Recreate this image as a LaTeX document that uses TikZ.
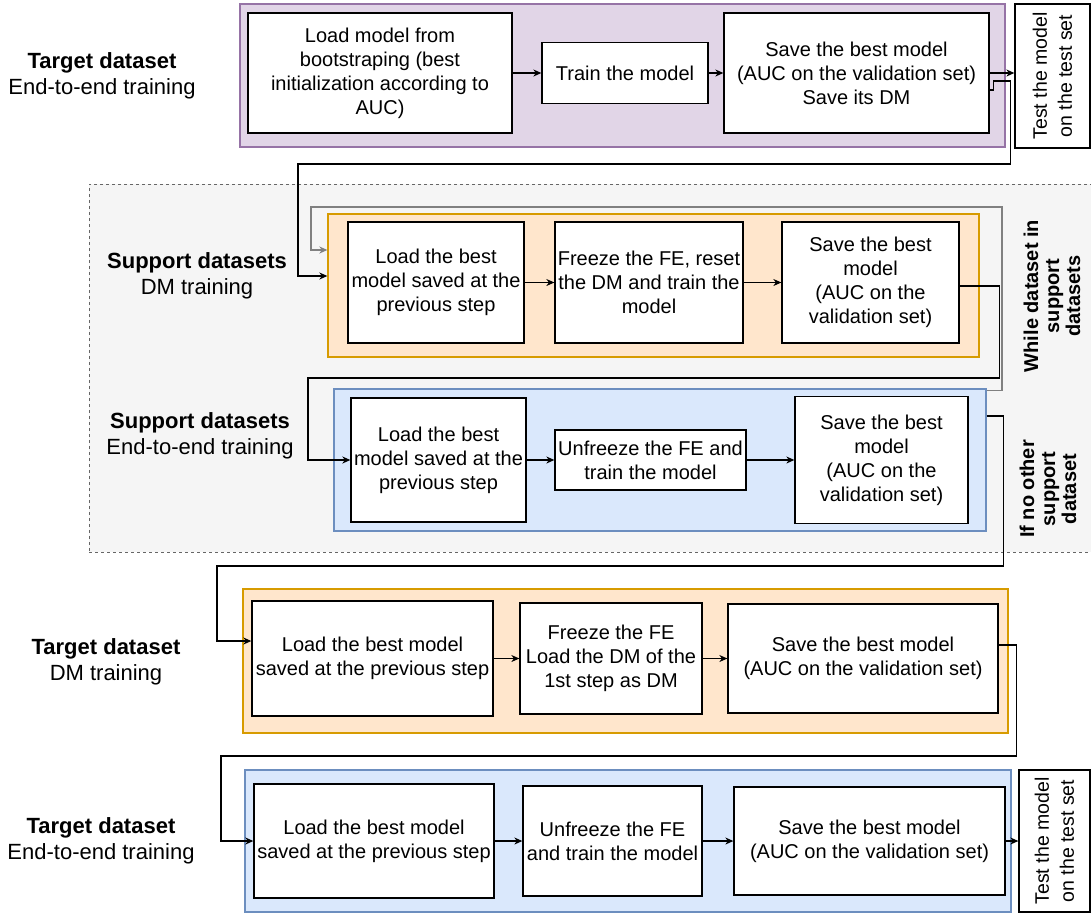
\documentclass[tikz,border=0pt]{standalone}
\usepackage{fontspec}
\setmainfont{Liberation Sans}
\usetikzlibrary{arrows.meta}

\definecolor{purplefill}{HTML}{E1D5E7}
\definecolor{purpleline}{HTML}{9673A6}
\definecolor{orangefill}{HTML}{FFE6CC}
\definecolor{orangeline}{HTML}{D79B00}
\definecolor{bluefill}{HTML}{DAE8FC}
\definecolor{blueline}{HTML}{6C8EBF}
\definecolor{groupfill}{HTML}{F5F5F5}
\definecolor{groupline}{HTML}{666666}
\definecolor{loopline}{HTML}{808080}

\begin{document}
\begin{tikzpicture}[x=1pt,y=-1pt,
  band/.style={line width=1.3pt, inner sep=0pt},
  purpleband/.style={band, draw=purpleline, fill=purplefill},
  orangeband/.style={band, draw=orangeline, fill=orangefill},
  blueband/.style={band, draw=blueline, fill=bluefill},
  group/.style={draw=groupline, fill=groupfill, line width=0.9pt, dash pattern=on 3pt off 3pt, inner sep=0pt},
  stepbox/.style={draw=black, fill=white, line width=1.3pt, align=center, inner sep=0pt,
                  font=\fontsize{20}{24}\selectfont},
  testbox/.style={stepbox, rotate=90, font=\fontsize{19.5}{25}\selectfont},
  rowlabel/.style={align=center, font=\fontsize{22}{26.5}\selectfont},
  sidelabel/.style={align=center, rotate=90, font=\fontsize{20}{21}\selectfont\bfseries},
  arr/.style={draw=black, line width=1.2pt, -{Stealth[length=8pt,width=7pt,inset=2.5pt]}},
  looparr/.style={arr, draw=loopline}
]
\useasboundingbox (0,0) rectangle (1091,913);

% dashed group holding the support-dataset stages
\node[group, minimum width=1011, minimum height=368] (SG) at (594.5,368) {};

% stage bands
\node[purpleband, minimum width=765, minimum height=143] (P)  at (622.5,75.5) {};
\node[orangeband, minimum width=651, minimum height=143] (S1) at (653.5,285.5) {};
\node[blueband,   minimum width=652, minimum height=142] (S2) at (660,460) {};
\node[orangeband, minimum width=765, minimum height=144] (TD) at (625.5,661) {};
\node[blueband,   minimum width=766, minimum height=142] (TE) at (628,841) {};

% stage labels
\node[rowlabel] (L1) at (102,76)  {\textbf{Target dataset}\\End-to-end training};
\node[rowlabel] (L2) at (197,276) {\textbf{Support datasets}\\DM training};
\node[rowlabel] (L3) at (200,436) {\textbf{Support datasets}\\End-to-end training};
\node[rowlabel] (L4) at (106,662) {\textbf{Target dataset}\\DM training};
\node[rowlabel] (L5) at (101,841) {\textbf{Target dataset}\\End-to-end training};

% loop conditions
\node[sidelabel] (W) at (1052,296) {While dataset in\\support\\datasets};
\node[sidelabel] (N) at (1048,489) {If no other\\support\\dataset};

% target dataset, end-to-end training (first pass)
\node[stepbox, minimum width=264, minimum height=120] (A1) at (380,73)
  {Load model from\\bootstraping (best\\initialization according to\\AUC)};
\node[stepbox, minimum width=166, minimum height=61] (A2) at (625,73) {Train the model};
\node[stepbox, minimum width=265, minimum height=120] (A3) at (856.5,73)
  {Save the best model\\(AUC on the validation set)\\Save its DM};
\node[testbox, minimum width=144, minimum height=75] (T1) at (1052.5,76)
  {Test the model\\on the test set};

% support datasets, DM training
\node[stepbox, minimum width=176, minimum height=121] (B1) at (436,282.5)
  {Load the best\\model saved at the\\previous step};
\node[stepbox, minimum width=188, minimum height=121] (B2) at (649,282.5)
  {Freeze the FE, reset\\the DM and train the\\model};
\node[stepbox, minimum width=177, minimum height=121] (B3) at (870.5,282.5)
  {Save the best\\model\\(AUC on the\\validation set)};

% support datasets, end-to-end training
\node[stepbox, minimum width=175, minimum height=124] (C1) at (438.5,460)
  {Load the best\\model saved at the\\previous step};
\node[stepbox, minimum width=191, minimum height=60] (C2) at (650.5,460)
  {Unfreeze the FE and\\train the model};
\node[stepbox, minimum width=173, minimum height=127] (C3) at (881.5,460)
  {Save the best\\model\\(AUC on the\\validation set)};

% target dataset, DM training
\node[stepbox, minimum width=241, minimum height=115] (D1) at (372.5,658.5)
  {Load the best model\\saved at the previous step};
\node[stepbox, minimum width=182, minimum height=111] (D2) at (611,658.5)
  {Freeze the FE\\Load the DM of the\\1st step as DM};
\node[stepbox, minimum width=270, minimum height=109] (D3) at (863,658.5)
  {Save the best model\\(AUC on the validation set)};

% target dataset, end-to-end training (final pass)
\node[stepbox, minimum width=240, minimum height=114] (E1) at (374,841)
  {Load the best model\\saved at the previous step};
\node[stepbox, minimum width=179, minimum height=110] (E2) at (612.5,841)
  {Unfreeze the FE\\and train the model};
\node[stepbox, minimum width=271, minimum height=108] (E3) at (869.5,841)
  {Save the best model\\(AUC on the validation set)};
\node[testbox, minimum width=142, minimum height=71] (T2) at (1054.5,841)
  {Test the model\\on the test set};

% arrows inside each stage
\draw[arr] (A1.east) -- (A2.west);
\draw[arr] (A2.east) -- (A3.west);
\draw[arr] (A3.east) -- (A3.east -| T1.north);
\draw[arr] (B1.east) -- (B2.west);
\draw[arr] (B2.east) -- (B3.west);
\draw[arr] (C1.east) -- (C2.west);
\draw[arr] (C2.east) -- (C3.west);
\draw[arr] (D1.east) -- (D2.west);
\draw[arr] (D2.east) -- (D3.west);
\draw[arr] (E1.east) -- (E2.west);
\draw[arr] (E2.east) -- (E3.west);
\draw[arr] (E3.east) -- (E3.east -| T2.north);

% links between stages
\draw[arr] ([yshift=-17pt]A3.east) -- ++(4,0) -- ++(0,-9) -- ++(17,0)
  |- (298,164) |- ([yshift=9.5pt]S1.west);
\draw[looparr] ([yshift=-2pt]S2.north east) -| (1002,207) -| (311,250)
  -- ([yshift=35.5pt]S1.west);
\draw[arr] ([yshift=-3.5pt]B3.east) -- ++(40,0) |- (308,378) |- (C1.west);
\draw[arr] ([yshift=44pt]S2.east) -- ++(17,0) |- (217,566) |- ([yshift=17.5pt]D1.west);
\draw[arr] ([yshift=13.5pt]D3.east) -- ++(18,0) |- (221,756) |- (E1.west);
\end{tikzpicture}
\end{document}
